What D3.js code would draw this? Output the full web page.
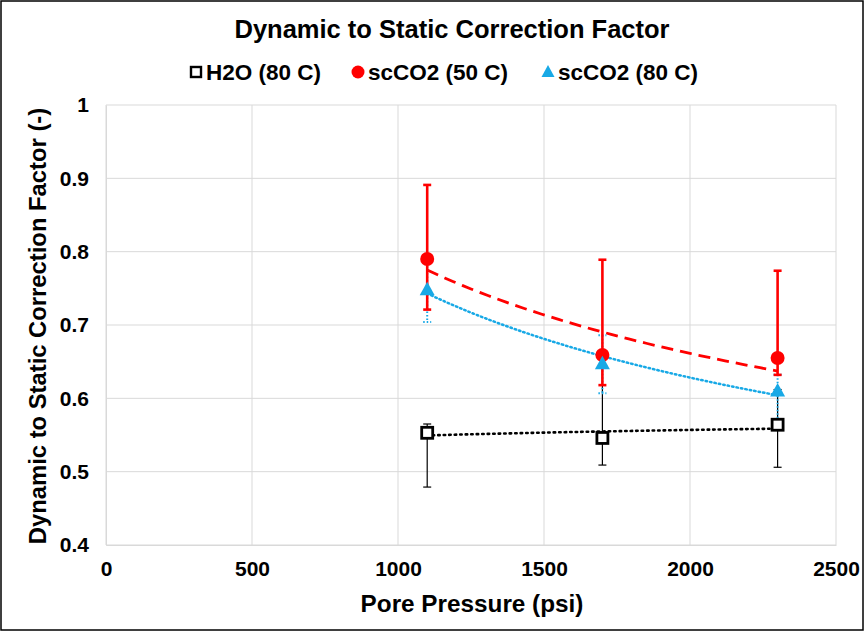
<!DOCTYPE html>
<html>
<head>
<meta charset="utf-8">
<script src="https://cdn.jsdelivr.net/npm/d3@7"></script>
<style>
  html, body { margin: 0; padding: 0; background: #fff; }
  text { font-family: "Liberation Sans", Arial, sans-serif; font-weight: bold; fill: #000; }
</style>
</head>
<body>
<svg id="chart" width="865" height="632"></svg>
<script>
// Pore pressure (psi) at which each fluid was tested
const pressures = [1100, 1700, 2300];

// Correction factor per fluid, with upper / lower error extents
const h2o80 = [0.553, 0.546, 0.564];
const h2o80Up = [0.565, 0.645, 0.612];
const h2o80Down = [0.479, 0.509, 0.506];

const co2_50 = [0.790, 0.659, 0.655];
const co2_50Up = [0.891, 0.789, 0.774];
const co2_50Down = [0.721, 0.618, 0.632];

const co2_80 = [0.748, 0.647, 0.610];
const co2_80Up = [0.790, 0.686, 0.632];
const co2_80Down = [0.704, 0.607, 0.566];

const xTicks = [0, 500, 1000, 1500, 2000, 2500];
const yTicks = [0.4, 0.5, 0.6, 0.7, 0.8, 0.9, 1];

const svg = d3.select("#chart");
const W = 865, H = 632;

svg.append("rect").attr("x", 1).attr("y", 1).attr("width", W - 3).attr("height", H - 3)
  .attr("fill", "#fff").attr("stroke", "#000").attr("stroke-width", 1.5);

const x = d3.scaleLinear().domain([0, 2500]).range([106, 836]);
const y = d3.scaleLinear().domain([0.4, 1]).range([545, 105]);

// gridlines
const grid = svg.append("g");
grid.selectAll(".gx").data(xTicks).join("line")
  .attr("x1", d => x(d)).attr("x2", d => x(d)).attr("y1", y(1)).attr("y2", y(0.4))
  .attr("stroke", "#d9d9d9").attr("stroke-width", 1);
grid.selectAll(".gy").data(yTicks).join("line")
  .attr("x1", x(0)).attr("x2", x(2500)).attr("y1", d => y(d)).attr("y2", d => y(d))
  .attr("stroke", "#d9d9d9").attr("stroke-width", 1);

// axes
const xAxis = svg.append("g").attr("transform", `translate(0,${y(0.4)})`)
  .call(d3.axisBottom(x).tickValues(xTicks).tickSize(0).tickPadding(16).tickFormat(d3.format("d")));
xAxis.select(".domain").attr("stroke", "#d9d9d9");
xAxis.selectAll("text").style("font-size", "21px");

const yAxis = svg.append("g").attr("transform", `translate(${x(0)},0)`)
  .call(d3.axisLeft(y).tickValues(yTicks).tickSize(0).tickPadding(17).tickFormat(d3.format("~g")));
yAxis.select(".domain").attr("stroke", "#d9d9d9");
yAxis.selectAll("text").style("font-size", "21px");

// power-law trendline y = a * x^b fitted by least squares in log space
function powerFit(xs, ys) {
  const lx = xs.map(Math.log), ly = ys.map(Math.log);
  const mx = d3.mean(lx), my = d3.mean(ly);
  const b = d3.sum(lx, (v, i) => (v - mx) * (ly[i] - my)) / d3.sum(lx, v => (v - mx) ** 2);
  const a = Math.exp(my - b * mx);
  return v => a * Math.pow(v, b);
}

const series = [
  { name: "H2O (80 C)", vals: h2o80, up: h2o80Up, down: h2o80Down, color: "#000",
    trendDash: "1.5,4", trendWidth: 2.6, errDash: null, errWidth: 1.2, marker: "square" },
  { name: "scCO2 (50 C)", vals: co2_50, up: co2_50Up, down: co2_50Down, color: "#ff0000",
    trendDash: "12,7", trendWidth: 2.8, errDash: null, errWidth: 2.6, marker: "circle" },
  { name: "scCO2 (80 C)", vals: co2_80, up: co2_80Up, down: co2_80Down, color: "#18a9e6",
    trendDash: "1.5,3", trendWidth: 2.5, errDash: "1.5,2", errWidth: 2, marker: "triangle" }
];

const line = d3.line().x(d => x(d[0])).y(d => y(d[1]));

// trendlines
series.forEach(s => {
  const f = powerFit(pressures, s.vals);
  const pts = d3.range(0, 41).map(i => {
    const p = pressures[0] + (pressures[2] - pressures[0]) * i / 40;
    return [p, f(p)];
  });
  svg.append("path").datum(pts).attr("d", line).attr("fill", "none")
    .attr("stroke", s.color).attr("stroke-width", s.trendWidth)
    .attr("stroke-dasharray", s.trendDash).attr("stroke-linecap", s.marker === "circle" ? "butt" : "round");
});

// error bars
const errOrder = [series[0], series[2], series[1]];
errOrder.forEach(s => {
  const g = svg.append("g");
  pressures.forEach((p, i) => {
    g.append("line").attr("x1", x(p)).attr("x2", x(p)).attr("y1", y(s.up[i])).attr("y2", y(s.down[i]))
      .attr("stroke", s.color).attr("stroke-width", s.errWidth).attr("stroke-dasharray", s.errDash);
    [s.up[i], s.down[i]].forEach(v => {
      g.append("line").attr("x1", x(p) - 4).attr("x2", x(p) + 4).attr("y1", y(v)).attr("y2", y(v))
        .attr("stroke", s.color).attr("stroke-width", s.errWidth).attr("stroke-dasharray", s.errDash);
    });
  });
});

// markers
function drawMarker(g, type, cx, cy, color) {
  if (type === "square") {
    g.append("rect").attr("x", cx - 5.5).attr("y", cy - 5.5).attr("width", 11).attr("height", 11)
      .attr("fill", "#fff").attr("stroke", "#000").attr("stroke-width", 2.8);
  } else if (type === "circle") {
    g.append("circle").attr("cx", cx).attr("cy", cy).attr("r", 7).attr("fill", color);
  } else {
    g.append("path").attr("d", `M${cx},${cy - 8}L${cx + 7.5},${cy + 5.5}L${cx - 7.5},${cy + 5.5}Z`)
      .attr("fill", color);
  }
}
series.forEach(s => {
  const g = svg.append("g");
  pressures.forEach((p, i) => drawMarker(g, s.marker, x(p), y(s.vals[i]), s.color));
});

// title
svg.append("text").attr("x", 452).attr("y", 38).attr("text-anchor", "middle")
  .style("font-size", "25.5px").text("Dynamic to Static Correction Factor");

// legend
const legendX = [196, 358, 548];
series.forEach((s, i) => {
  const g = svg.append("g");
  const cy = 72;
  const lx = legendX[i];
  if (s.marker === "square") {
    g.append("rect").attr("x", lx - 5).attr("y", cy - 5).attr("width", 10).attr("height", 10)
      .attr("fill", "#fff").attr("stroke", "#000").attr("stroke-width", 2.4);
  } else if (s.marker === "circle") {
    g.append("circle").attr("cx", lx).attr("cy", cy).attr("r", 6.5).attr("fill", s.color);
  } else {
    g.append("path").attr("d", `M${lx},${cy - 7}L${lx + 6.5},${cy + 5}L${lx - 6.5},${cy + 5}Z`)
      .attr("fill", s.color);
  }
  g.append("text").attr("x", lx + 10).attr("y", cy + 8).style("font-size", "22.5px").text(s.name);
});

// axis titles
svg.append("text").attr("x", 472).attr("y", 612).attr("text-anchor", "middle")
  .style("font-size", "24.3px").text("Pore Pressure (psi)");
svg.append("text").attr("transform", "translate(46,326) rotate(-90)").attr("text-anchor", "middle")
  .style("font-size", "23.8px").text("Dynamic to Static Correction Factor (-)");
</script>
</body>
</html>
